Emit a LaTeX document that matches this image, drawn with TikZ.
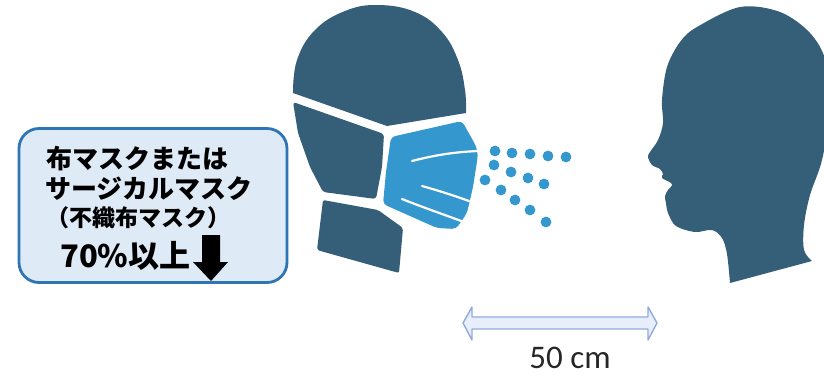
\documentclass[tikz,border=0pt]{standalone}
\usepackage{fontspec}
\usepackage{xcolor}
\usepackage{tikz}
\newfontfamily\jpfont{Noto Sans CJK JP}
\newfontfamily\labelfont{Carlito}
\definecolor{headblue}{RGB}{53, 95, 120}
\definecolor{maskblue}{RGB}{52, 151, 206}
\definecolor{boxedge}{RGB}{46, 117, 182}
\definecolor{boxfill}{RGB}{222, 235, 247}
\definecolor{spanedge}{RGB}{143, 170, 220}
\definecolor{spanfill}{RGB}{232, 239, 250}
\tikzset{
    head/.style={fill=headblue, draw=none},
    maskpart/.style={fill=maskblue, draw=none},
    pleat/.style={draw=white, line width=2.2pt, line cap=round},
    drop/.style={fill=maskblue, draw=none},
    notebox/.style={rectangle, rounded corners=20pt, draw=boxedge,
                    fill=boxfill, line width=2.8pt, minimum width=268pt,
                    minimum height=154pt},
    notetext/.style={anchor=base west, inner sep=0pt,
                     font=\jpfont\bfseries\fontsize{#1}{#1}\selectfont},
}

\begin{document}
\begin{tikzpicture}[x=1pt, y=-1pt]
    \useasboundingbox (0,0) rectangle (824,376);

    % head with mask, left
    \fill[head] plot[smooth, tension=0.7] coordinates {(293,93) (297,60)
        (315,30) (345,11) (378,5) (415,12) (442,32) (458,60) (465,90)
        (466,113)} -- (387,126) -- cycle;
    \fill[head, rounded corners=3pt] (293,102) -- (384,134) -- (382,167)
        -- (376,199) -- (323,192) -- (310,167) -- (298,133) -- cycle;
    \fill[head, rounded corners=2pt] (323,200) -- (378,210) -- (403,228)
        -- (399,273) -- (317,250) -- cycle;
    \fill[maskpart, rounded corners=4pt] (391,137) -- (462,121) -- (476,146)
        -- (478,155) -- (473,187) -- (467,213) -- (456,229) -- (437,228)
        -- (383,204) -- (386,172) -- cycle;
    \draw[pleat] (412,161) .. controls (435,155) and (455,152) .. (478,151);
    \draw[pleat] (422,186) .. controls (440,191) and (455,196) .. (469,201);
    \draw[pleat] (402,199) .. controls (422,207) and (445,215) .. (464,222);

    % droplets
    \foreach \x/\y in {495/151, 512/153, 530/154, 548/156, 566/157,
                       494/165, 511/172, 528/178, 544/184,
                       485/180, 501/190, 515/200, 530/210, 546/222}
        \fill[drop] (\x,\y) circle (5.4pt);

    % head, right
    \fill[head] plot[smooth, tension=0.55] coordinates {(730,283) (727,254)
        (722,238) (712,230) (695,232) (676,226) (668,213) (666,203)
        (665,196) (668,190) (672,184) (662,178) (663,174) (660,169)
        (652,165) (648,157) (650,152) (658,140) (663,123) (662,100)
        (667,67) (680,42) (697,27) (740,7) (780,12) (810,33) (826,62)
        (830,110) (822,160) (810,195) (804,225) (804,250) (812,261)}
        -- cycle;

    % note box
    \node[notebox] (notebox) at (153,205.5) {};
    \node[notetext=26] (cloth) at (46,168) {布マスクまたは};
    \node[notetext=26] (surgical) at (45,198) {サージカルマスク};
    \node[notetext=23] (nonwoven) at (46,226.5) {（不織布マスク）};
    \node[notetext=31] (rate) at (60,267) {70\%以上};
    \fill (202,235) -- (220,235) -- (220,262) -- (228,262) -- (211,281)
        -- (193,262) -- (202,262) -- cycle;

    % distance
    \filldraw[fill=spanfill, draw=spanedge, line width=1.4pt, line join=round]
        (463,323) -- (472,307) -- (472,317) -- (648,317) -- (648,307)
        -- (657,323) -- (648,340) -- (648,329) -- (472,329) -- (472,340)
        -- cycle;
    \node[font=\labelfont\fontsize{33}{33}\selectfont, anchor=base,
          inner sep=0pt, text depth=0pt, text=black!85] (dist)
          at (570,368) {50 cm};
\end{tikzpicture}
\end{document}
